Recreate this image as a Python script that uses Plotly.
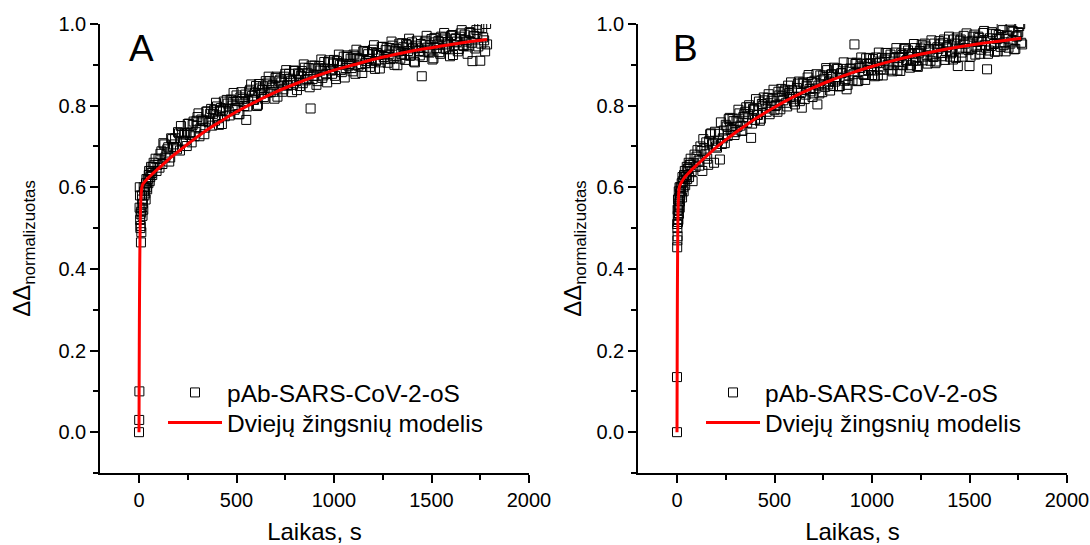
import plotly.graph_objects as go

# ---------------- Panel A data ----------------
t_A = [0, 1, 2, 4, 5, 6, 7, 8, 10, 12, 14, 16, 18, 20, 24, 28, 32, 36, 40, 45,
       50, 55, 60, 65, 70, 80, 90, 100,
       110, 120, 130, 140, 150, 160, 170, 180, 190, 200,
       210, 220, 230, 240, 250, 260, 270, 280, 290, 300,
       310, 320, 330, 340, 350, 360, 370, 380, 390, 400,
       410, 420, 430, 440, 450, 460, 470, 480, 490, 500,
       510, 520, 530, 540, 550, 560, 570, 580, 590, 600,
       610, 620, 630, 640, 650, 660, 670, 680, 690, 700,
       710, 720, 730, 740, 750, 760, 770, 780, 790, 800,
       810, 820, 830, 840, 850, 860, 870, 880, 890, 900,
       910, 920, 930, 940, 950, 960, 970, 980, 990, 1000,
       1010, 1020, 1030, 1040, 1050, 1060, 1070, 1080, 1090, 1100,
       1110, 1120, 1130, 1140, 1150, 1160, 1170, 1180, 1190, 1200,
       1210, 1220, 1230, 1240, 1250, 1260, 1270, 1280, 1290, 1300,
       1310, 1320, 1330, 1340, 1350, 1360, 1370, 1380, 1390, 1400,
       1410, 1420, 1430, 1440, 1450, 1460, 1470, 1480, 1490, 1500,
       1510, 1520, 1530, 1540, 1550, 1560, 1570, 1580, 1590, 1600,
       1610, 1620, 1630, 1640, 1650, 1660, 1670, 1680, 1690, 1700,
       1710, 1720, 1730, 1740, 1750, 1760, 1770, 1780, 1785]
y_A = [0.0, 0.03, 0.10, 0.60, 0.58, 0.52, 0.50, 0.535, 0.465, 0.49, 0.55, 0.57, 0.53, 0.56, 0.60, 0.58, 0.585, 0.61, 0.60, 0.62,
       0.63, 0.615, 0.64, 0.635, 0.65, 0.655, 0.64, 0.67,
       0.682, 0.657, 0.705, 0.68, 0.698, 0.673, 0.718, 0.705, 0.698, 0.735,
       0.69, 0.732, 0.729, 0.714, 0.755, 0.728, 0.71, 0.761, 0.735, 0.772,
       0.725, 0.766, 0.762, 0.746, 0.786, 0.759, 0.792, 0.78, 0.763, 0.798,
       0.753, 0.794, 0.79, 0.774, 0.814, 0.786, 0.815, 0.80, 0.79, 0.825,
       0.779, 0.82, 0.816, 0.799, 0.765, 0.811, 0.839, 0.824, 0.814, 0.848,
       0.802, 0.842, 0.838, 0.821, 0.86, 0.832, 0.86, 0.844, 0.834, 0.868,
       0.822, 0.861, 0.857, 0.84, 0.878, 0.85, 0.878, 0.861, 0.851, 0.885,
       0.838, 0.877, 0.873, 0.855, 0.893, 0.865, 0.892, 0.793, 0.865, 0.898,
       0.851, 0.891, 0.886, 0.868, 0.907, 0.878, 0.906, 0.889, 0.878, 0.912,
       0.865, 0.904, 0.90, 0.882, 0.92, 0.892, 0.919, 0.902, 0.892, 0.925,
       0.878, 0.917, 0.913, 0.895, 0.933, 0.904, 0.931, 0.914, 0.904, 0.937,
       0.89, 0.929, 0.924, 0.906, 0.944, 0.915, 0.942, 0.925, 0.914, 0.947,
       0.90, 0.939, 0.933, 0.915, 0.953, 0.924, 0.951, 0.934, 0.922, 0.955,
       0.908, 0.947, 0.942, 0.923, 0.872, 0.932, 0.959, 0.942, 0.93, 0.963,
       0.916, 0.955, 0.95, 0.931, 0.969, 0.94, 0.967, 0.95, 0.938, 0.971,
       0.924, 0.963, 0.957, 0.939, 0.977, 0.948, 0.974, 0.957, 0.945, 0.978,
       0.909, 0.97, 0.985, 0.945, 0.91, 0.99, 0.96, 1.0, 0.95]

# second, interleaved set of readings for panel A
t_A2 = [3, 9, 11, 15, 22, 26, 30, 34, 38, 42, 48, 52, 58, 62, 68, 75, 85, 95,
        105, 115, 125, 135, 145, 155, 165, 175, 185, 195,
        205, 215, 225, 235, 245, 255, 265, 275, 285, 295,
        305, 315, 325, 335, 345, 355, 365, 375, 385, 395,
        405, 415, 425, 435, 445, 455, 465, 475, 485, 495,
        505, 515, 525, 535, 545, 555, 565, 575, 585, 595,
        605, 615, 625, 635, 645, 655, 665, 675, 685, 695,
        705, 715, 725, 735, 745, 755, 765, 775, 785, 795,
        805, 815, 825, 835, 845, 855, 865, 875, 885, 895,
        905, 915, 925, 935, 945, 955, 965, 975, 985, 995,
        1005, 1015, 1025, 1035, 1045, 1055, 1065, 1075, 1085, 1095,
        1105, 1115, 1125, 1135, 1145, 1155, 1165, 1175, 1185, 1195,
        1205, 1215, 1225, 1235, 1245, 1255, 1265, 1275, 1285, 1295,
        1305, 1315, 1325, 1335, 1345, 1355, 1365, 1375, 1385, 1395,
        1405, 1415, 1425, 1435, 1445, 1455, 1465, 1475, 1485, 1495,
        1505, 1515, 1525, 1535, 1545, 1555, 1565, 1575, 1585, 1595,
        1605, 1615, 1625, 1635, 1645, 1655, 1665, 1675, 1685, 1695,
        1705, 1715, 1725, 1735, 1745, 1755, 1765, 1775]
y_A2 = [0.55, 0.505, 0.54, 0.58, 0.545, 0.59, 0.60, 0.57, 0.62, 0.595, 0.61, 0.64, 0.625, 0.65, 0.63, 0.66, 0.67, 0.655,
        0.648, 0.688, 0.708, 0.673, 0.693, 0.663, 0.72, 0.699, 0.72, 0.693,
        0.732, 0.75, 0.714, 0.732, 0.701, 0.756, 0.734, 0.753, 0.725, 0.763,
        0.781, 0.744, 0.762, 0.73, 0.785, 0.761, 0.78, 0.751, 0.789, 0.807,
        0.769, 0.787, 0.755, 0.81, 0.786, 0.805, 0.776, 0.813, 0.831, 0.794,
        0.811, 0.779, 0.833, 0.809, 0.827, 0.798, 0.835, 0.852, 0.815, 0.832,
        0.799, 0.853, 0.829, 0.847, 0.817, 0.854, 0.871, 0.833, 0.85, 0.817,
        0.871, 0.847, 0.864, 0.834, 0.871, 0.887, 0.849, 0.866, 0.833, 0.886,
        0.862, 0.879, 0.848, 0.885, 0.901, 0.862, 0.879, 0.845, 0.898, 0.873,
        0.891, 0.86, 0.897, 0.913, 0.874, 0.891, 0.857, 0.911, 0.886, 0.903,
        0.873, 0.909, 0.925, 0.887, 0.903, 0.869, 0.923, 0.898, 0.915, 0.884,
        0.921, 0.937, 0.898, 0.914, 0.88, 0.934, 0.909, 0.926, 0.895, 0.931,
        0.948, 0.909, 0.925, 0.891, 0.944, 0.919, 0.936, 0.905, 0.941, 0.957,
        0.917, 0.933, 0.899, 0.952, 0.927, 0.943, 0.912, 0.948, 0.964, 0.925,
        0.94, 0.906, 0.959, 0.934, 0.951, 0.919, 0.955, 0.971, 0.932, 0.948,
        0.913, 0.966, 0.941, 0.958, 0.927, 0.962, 0.978, 0.939, 0.955, 0.921,
        0.973, 0.948, 0.965, 0.933, 0.969, 0.985, 0.946, 0.961, 0.927, 0.98,
        0.954, 0.971, 0.94, 0.976, 0.991, 0.952, 0.967, 0.933]

fit_t_A = [0, 1, 2, 3, 4, 5, 6, 8, 10, 12, 15, 20, 30, 40, 60, 80, 100, 130, 160, 200,
           250, 300, 350, 400, 450, 500, 600, 700, 800, 900, 1000, 1100, 1200, 1300,
           1400, 1500, 1600, 1700, 1785]
fit_y_A = [0.0, 0.16, 0.27, 0.36, 0.42, 0.47, 0.505, 0.55, 0.575, 0.59, 0.60, 0.608, 0.614, 0.619, 0.629, 0.638, 0.646, 0.659, 0.672, 0.687,
           0.706, 0.724, 0.741, 0.756, 0.771, 0.785, 0.81, 0.833, 0.853, 0.871, 0.887, 0.90, 0.913, 0.924,
           0.934, 0.942, 0.95, 0.957, 0.962]

# ---------------- Panel B data ----------------
t_B = [0, 0, 1, 2, 3, 4, 5, 6, 8, 10, 12, 14, 16, 18, 20, 24, 28, 32, 36, 40, 45,
       50, 55, 60, 65, 70, 80, 90, 100,
       110, 120, 130, 140, 150, 160, 170, 180, 190, 200,
       210, 220, 230, 240, 250, 260, 270, 280, 290, 300,
       310, 320, 330, 340, 350, 360, 370, 380, 390, 400,
       410, 420, 430, 440, 450, 460, 470, 480, 490, 500,
       510, 520, 530, 540, 550, 560, 570, 580, 590, 600,
       610, 620, 630, 640, 650, 660, 670, 680, 690, 700,
       710, 720, 730, 740, 750, 760, 770, 780, 790, 800,
       810, 820, 830, 840, 850, 860, 870, 880, 890, 900,
       910, 920, 930, 940, 950, 960, 970, 980, 990, 1000,
       1010, 1020, 1030, 1040, 1050, 1060, 1070, 1080, 1090, 1100,
       1110, 1120, 1130, 1140, 1150, 1160, 1170, 1180, 1190, 1200,
       1210, 1220, 1230, 1240, 1250, 1260, 1270, 1280, 1290, 1300,
       1310, 1320, 1330, 1340, 1350, 1360, 1370, 1380, 1390, 1400,
       1410, 1420, 1430, 1440, 1450, 1460, 1470, 1480, 1490, 1500,
       1510, 1520, 1530, 1540, 1550, 1560, 1570, 1580, 1590, 1600,
       1610, 1620, 1630, 1640, 1650, 1660, 1670, 1680, 1690, 1700,
       1710, 1720, 1730, 1740, 1750, 1760, 1770]
y_B = [0.0, 0.135, 0.453, 0.50, 0.48, 0.53, 0.515, 0.545, 0.56, 0.535, 0.575, 0.55, 0.585, 0.60, 0.59, 0.61, 0.625, 0.60, 0.63, 0.64, 0.625,
       0.65, 0.645, 0.66, 0.655, 0.67, 0.615, 0.68, 0.675,
       0.665, 0.70, 0.64, 0.695, 0.71, 0.655, 0.73, 0.705, 0.66, 0.70,
       0.714, 0.668, 0.706, 0.739, 0.753, 0.726, 0.77, 0.743, 0.762, 0.735,
       0.748, 0.781, 0.739, 0.772, 0.785, 0.758, 0.801, 0.721, 0.792, 0.765,
       0.778, 0.81, 0.768, 0.80, 0.813, 0.785, 0.828, 0.80, 0.818, 0.79,
       0.802, 0.834, 0.791, 0.823, 0.835, 0.807, 0.849, 0.821, 0.838, 0.81,
       0.822, 0.854, 0.811, 0.795, 0.855, 0.827, 0.869, 0.841, 0.858, 0.83,
       0.842, 0.803, 0.83, 0.862, 0.874, 0.846, 0.887, 0.859, 0.876, 0.848,
       0.859, 0.891, 0.847, 0.879, 0.89, 0.861, 0.84, 0.874, 0.891, 0.862,
       0.95, 0.905, 0.861, 0.892, 0.903, 0.875, 0.916, 0.887, 0.904, 0.875,
       0.886, 0.918, 0.874, 0.905, 0.917, 0.888, 0.929, 0.90, 0.917, 0.888,
       0.899, 0.93, 0.886, 0.917, 0.928, 0.899, 0.941, 0.912, 0.928, 0.899,
       0.91, 0.941, 0.897, 0.928, 0.94, 0.911, 0.952, 0.923, 0.939, 0.91,
       0.921, 0.952, 0.908, 0.939, 0.95, 0.921, 0.962, 0.933, 0.949, 0.92,
       0.931, 0.962, 0.917, 0.897, 0.959, 0.93, 0.971, 0.941, 0.957, 0.897,
       0.939, 0.969, 0.925, 0.956, 0.966, 0.937, 0.978, 0.948, 0.889, 0.935,
       0.946, 0.976, 0.932, 0.963, 0.973, 0.944, 0.985, 0.955, 0.971, 0.942,
       0.952, 0.983, 0.938, 0.969, 0.98, 1.0, 0.95]

# second, interleaved set of readings for panel B
t_B2 = [1, 2, 3, 5, 7, 9, 11, 13, 15, 17, 22, 26, 30, 34, 38, 42, 48, 52, 58, 62, 68, 75, 85, 95,
        105, 115, 125, 135, 145, 155, 165, 175, 185, 195,
        205, 215, 225, 235, 245, 255, 265, 275, 285, 295,
        305, 315, 325, 335, 345, 355, 365, 375, 385, 395,
        405, 415, 425, 435, 445, 455, 465, 475, 485, 495,
        505, 515, 525, 535, 545, 555, 565, 575, 585, 595,
        605, 615, 625, 635, 645, 655, 665, 675, 685, 695,
        705, 715, 725, 735, 745, 755, 765, 775, 785, 795,
        805, 815, 825, 835, 845, 855, 865, 875, 885, 895,
        905, 915, 925, 935, 945, 955, 965, 975, 985, 995,
        1005, 1015, 1025, 1035, 1045, 1055, 1065, 1075, 1085, 1095,
        1105, 1115, 1125, 1135, 1145, 1155, 1165, 1175, 1185, 1195,
        1205, 1215, 1225, 1235, 1245, 1255, 1265, 1275, 1285, 1295,
        1305, 1315, 1325, 1335, 1345, 1355, 1365, 1375, 1385, 1395,
        1405, 1415, 1425, 1435, 1445, 1455, 1465, 1475, 1485, 1495,
        1505, 1515, 1525, 1535, 1545, 1555, 1565, 1575, 1585, 1595,
        1605, 1615, 1625, 1635, 1645, 1655, 1665, 1675, 1685, 1695,
        1705, 1715, 1725, 1735, 1745, 1755, 1765]
y_B2 = [0.51, 0.47, 0.545, 0.57, 0.52, 0.59, 0.555, 0.60, 0.565, 0.58, 0.60, 0.575, 0.615, 0.59, 0.625, 0.605, 0.63, 0.62, 0.645, 0.625, 0.655, 0.64, 0.66, 0.65,
        0.691, 0.653, 0.689, 0.718, 0.681, 0.67, 0.713, 0.732, 0.707, 0.736,
        0.697, 0.731, 0.759, 0.72, 0.708, 0.749, 0.767, 0.74, 0.768, 0.728,
        0.763, 0.79, 0.751, 0.738, 0.779, 0.796, 0.769, 0.796, 0.756, 0.79,
        0.816, 0.777, 0.763, 0.804, 0.82, 0.793, 0.819, 0.779, 0.812, 0.839,
        0.799, 0.785, 0.825, 0.841, 0.813, 0.839, 0.798, 0.831, 0.857, 0.817,
        0.803, 0.843, 0.859, 0.831, 0.857, 0.816, 0.849, 0.875, 0.835, 0.821,
        0.861, 0.877, 0.849, 0.874, 0.833, 0.866, 0.892, 0.852, 0.837, 0.877,
        0.893, 0.864, 0.89, 0.848, 0.88, 0.906, 0.865, 0.851, 0.89, 0.905,
        0.877, 0.902, 0.86, 0.893, 0.918, 0.877, 0.863, 0.902, 0.917, 0.888,
        0.914, 0.872, 0.904, 0.93, 0.889, 0.874, 0.913, 0.929, 0.90, 0.925,
        0.884, 0.916, 0.941, 0.90, 0.885, 0.924, 0.939, 0.91, 0.935, 0.893,
        0.926, 0.951, 0.91, 0.895, 0.934, 0.949, 0.92, 0.945, 0.903, 0.935,
        0.96, 0.919, 0.904, 0.943, 0.958, 0.929, 0.954, 0.912, 0.944, 0.969,
        0.928, 0.913, 0.952, 0.967, 0.938, 0.962, 0.92, 0.952, 0.977, 0.936,
        0.92, 0.959, 0.974, 0.944, 0.969, 0.927, 0.958, 0.983, 0.942, 0.927,
        0.965, 0.98, 0.951, 0.975, 0.933, 0.965, 0.99, 0.948, 0.933, 0.972,
        0.986, 0.957, 0.981, 0.939, 0.971, 0.995, 0.954]

fit_t_B = [0, 1, 2, 3, 4, 5, 6, 8, 10, 12, 15, 20, 40, 60, 80, 100, 130, 160, 200,
           250, 300, 350, 400, 450, 500, 600, 700, 800, 900, 1000, 1100, 1200, 1300,
           1400, 1500, 1600, 1700, 1765]
fit_y_B = [0.0, 0.20, 0.34, 0.43, 0.49, 0.53, 0.555, 0.58, 0.593, 0.60, 0.605, 0.61, 0.625, 0.635, 0.645, 0.654, 0.667, 0.68, 0.697,
           0.716, 0.734, 0.751, 0.767, 0.782, 0.796, 0.822, 0.844, 0.864, 0.881, 0.896, 0.909, 0.921, 0.931,
           0.94, 0.948, 0.955, 0.961, 0.965]

panel_labels = ["A", "B"]
legend_names = ["pAb-SARS-CoV-2-oS", "Dviejų žingsnių modelis"]
x_title = "Laikas, s"
y_title = "ΔΔ<sub>normalizuotas</sub>"

FONT = "Liberation Sans, Arial, sans-serif"
W, H = 1090, 545

fig = go.Figure()

panels = [(t_A + t_A2, y_A + y_A2, fit_t_A, fit_y_A),
          (t_B + t_B2, y_B + y_B2, fit_t_B, fit_y_B)]
legend_ids = [("legend", "legend2"), ("legend3", "legend4")]
for i, (tt, yy, ft, fy) in enumerate(panels):
    suf = "" if i == 0 else str(i + 1)
    fig.add_trace(go.Scatter(
        x=tt, y=yy, mode="markers", name=legend_names[0],
        xaxis="x" + suf, yaxis="y" + suf, legend=legend_ids[i][0],
        marker=dict(symbol="square-open", size=9, color="black", line=dict(width=1, color="black")),
    ))
    fig.add_trace(go.Scatter(
        x=ft, y=fy, mode="lines", name=legend_names[1],
        xaxis="x" + suf, yaxis="y" + suf, legend=legend_ids[i][1],
        line=dict(color="#ff0000", width=3, shape="spline", smoothing=0.6),
    ))

axis_common = dict(
    showline=True, linecolor="black", linewidth=1.5, mirror=False,
    showgrid=False, zeroline=False, automargin=False,
    ticks="outside", ticklen=8, tickwidth=1.5, tickcolor="black",
    tickfont=dict(family=FONT, size=20, color="black"),
)
xa = dict(axis_common, range=[-200, 2000], tick0=0, dtick=500,
          minor=dict(dtick=250, ticks="outside", ticklen=5, tickwidth=1.5, tickcolor="black"),
          title=dict(text=x_title, font=dict(family=FONT, size=24, color="black"), standoff=14))
ya = dict(axis_common, range=[-0.1, 1.0], tick0=0, dtick=0.2, tickformat=".1f",
          minor=dict(dtick=0.1, ticks="outside", ticklen=5, tickwidth=1.5, tickcolor="black"))
ya_title_font = dict(family=FONT, size=24, color="black")

dA = [100 / W, 529 / W]
dB = [638 / W, 1067 / W]

leg_common = dict(
    bgcolor="rgba(0,0,0,0)", borderwidth=0, font=dict(family=FONT, size=24.5, color="black"),
    xanchor="left", yanchor="top", itemwidth=54,
)
row1_y = (473 - 370) / 449
row2_y = (473 - 400) / 449

fig.update_layout(
    width=W, height=H,
    margin=dict(l=0, r=0, t=24, b=72, autoexpand=False),
    paper_bgcolor="white", plot_bgcolor="white",
    showlegend=True,
    xaxis=dict(xa, domain=dA, anchor="y"),
    yaxis=dict(ya, domain=[0, 1], anchor="x", title=dict(text=y_title, font=ya_title_font, standoff=21)),
    xaxis2=dict(xa, domain=dB, anchor="y2"),
    yaxis2=dict(ya, domain=[0, 1], anchor="x2", title=dict(text=y_title, font=ya_title_font, standoff=8)),
    legend=dict(leg_common, x=163 / W, y=row1_y),
    legend2=dict(leg_common, x=163 / W, y=row2_y),
    legend3=dict(leg_common, x=701 / W, y=row1_y),
    legend4=dict(leg_common, x=701 / W, y=row2_y),
    annotations=[
        dict(text=panel_labels[0], x=141 / W, y=(473 - 48) / 449, xref="paper", yref="paper",
             showarrow=False, font=dict(family=FONT, size=37, color="black"), xanchor="center", yanchor="middle"),
        dict(text=panel_labels[1], x=685 / W, y=(473 - 48) / 449, xref="paper", yref="paper",
             showarrow=False, font=dict(family=FONT, size=37, color="black"), xanchor="center", yanchor="middle"),
    ],
)

fig.write_html("out.html")
